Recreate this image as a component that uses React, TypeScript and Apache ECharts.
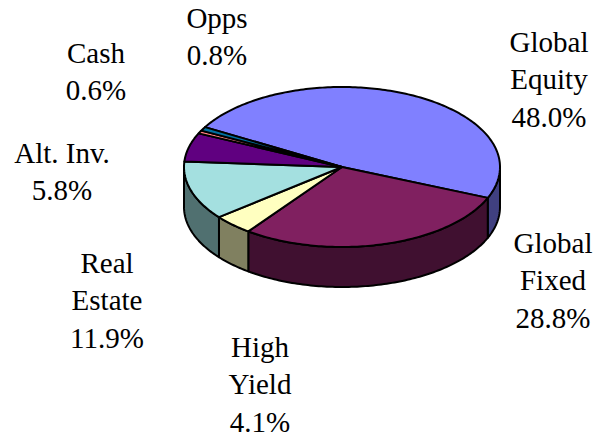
import React, { useEffect, useRef } from "react";
import * as echarts from "echarts";

const sliceNames = ["Global\nEquity", "Global\nFixed", "High\nYield", "Real\nEstate", "Alt. Inv.", "Cash", "Opps"];
const sliceValues = [48.0, 28.8, 4.1, 11.9, 5.8, 0.6, 0.8];
const topColors = ["#8080FF", "#802060", "#FFFFC0", "#A4E0E0", "#600080", "#FF8080", "#0070A0"];
const sideColors = ["#404080", "#401030", "#808060", "#507070", "#300040", "#804040", "#003850"];
const labelCenters: [number, number][] = [
  [549, 23], [553, 224], [260, 328], [107, 244], [62, 134], [96, 34], [217, -1],
];

const CX = 342, CY = 167, RX = 158, RY = 80, DEPTH = 40, START_DEG = 209.9;
const LINE = 37.5;

function sliceAngles(i: number): [number, number] {
  const total = sliceValues.reduce((a, b) => a + b, 0);
  let before = 0;
  for (let k = 0; k < i; k++) before += sliceValues[k];
  const a = START_DEG + (before / total) * 360;
  return [a, a + (sliceValues[i] / total) * 360];
}
function pt(deg: number, dy = 0): [number, number] {
  const r = (deg * Math.PI) / 180;
  return [CX + RX * Math.cos(r), CY + RY * Math.sin(r) + dy];
}
function arc(a: number, b: number, dy = 0): [number, number][] {
  const out: [number, number][] = [];
  const n = Math.max(2, Math.ceil((b - a) / 1));
  for (let i = 0; i <= n; i++) out.push(pt(a + ((b - a) * i) / n, dy));
  return out;
}
// visible part of the rim: front half of the ellipse, angles 0..180 (mod 360)
function frontRange(a: number, b: number): [number, number] | null {
  for (const shift of [0, -360, 360]) {
    const s = Math.max(a + shift, 0);
    const e = Math.min(b + shift, 180);
    if (e > s) return [s, e];
  }
  return null;
}

const outline = { stroke: "#000", lineWidth: 2, lineJoin: "round" as const };

export default function App() {
  const ref = useRef<HTMLDivElement>(null);
  useEffect(() => {
    const chart = echarts.init(ref.current!, undefined, { renderer: "svg" });
    const data = sliceNames.map((n, i) => ({ name: n, value: sliceValues[i] }));
    chart.setOption({
      animation: false,
      backgroundColor: "#fff",
      series: [
        {
          type: "custom",
          coordinateSystem: "none",
          silent: true,
          z: 1,
          data,
          renderItem: (p: any) => {
            const [a, b] = sliceAngles(p.dataIndex);
            const range = frontRange(a, b);
            if (!range) return { type: "group", children: [] };
            const pts = [...arc(range[0], range[1]), ...arc(range[0], range[1], DEPTH).reverse()];
            return {
              type: "polygon",
              shape: { points: pts },
              style: { fill: sideColors[p.dataIndex], ...outline },
            };
          },
        },
        {
          type: "custom",
          coordinateSystem: "none",
          silent: true,
          z: 2,
          data,
          renderItem: (p: any) => {
            const [a, b] = sliceAngles(p.dataIndex);
            return {
              type: "polygon",
              shape: { points: [[CX, CY], ...arc(a, b)] },
              style: { fill: topColors[p.dataIndex], ...outline },
            };
          },
        },
        {
          type: "custom",
          coordinateSystem: "none",
          silent: true,
          z: 3,
          data,
          renderItem: (p: any) => {
            const i = p.dataIndex;
            return {
              type: "text",
              x: labelCenters[i][0],
              y: labelCenters[i][1],
              style: {
                text: `${sliceNames[i]}\n${sliceValues[i].toFixed(1)}%`,
                fill: "#000",
                fontFamily: "Liberation Serif",
                fontSize: 29,
                lineHeight: LINE,
                align: "center",
                verticalAlign: "top",
              },
            };
          },
        },
      ],
    });
    return () => chart.dispose();
  }, []);
  return <div ref={ref} style={{ position: "fixed", left: 0, top: 0, width: 597, height: 438 }} />;
}
